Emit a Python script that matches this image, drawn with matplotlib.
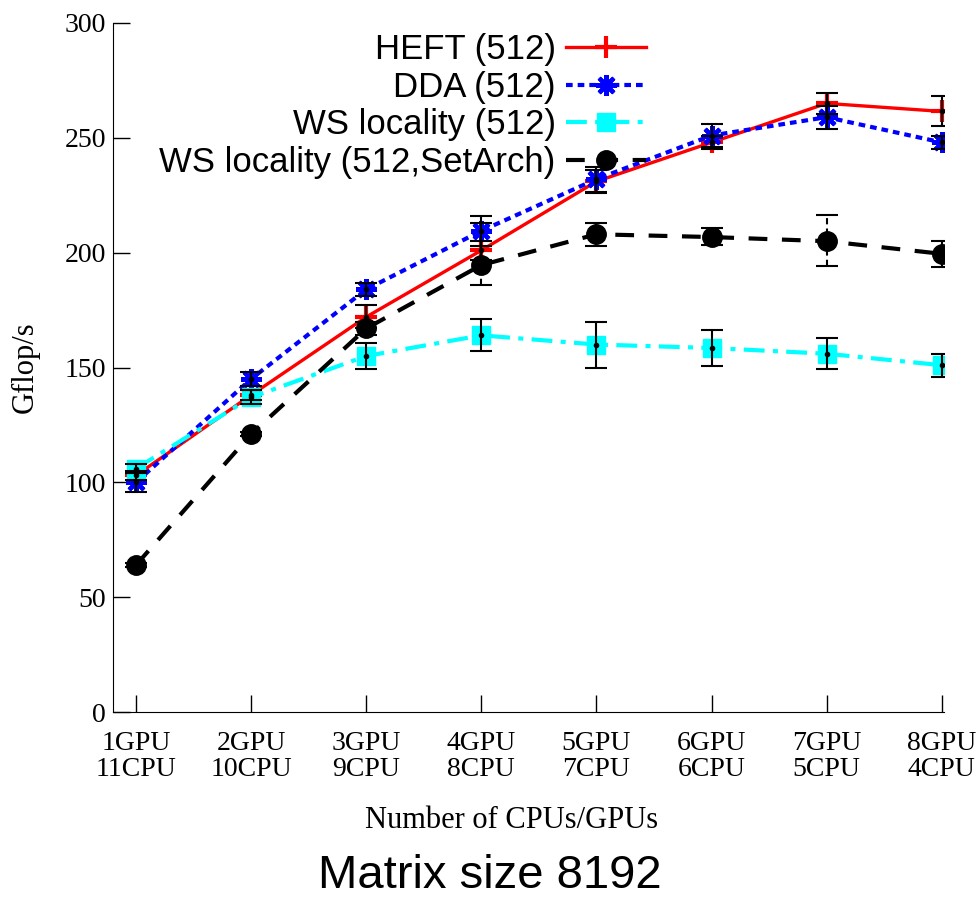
import numpy as np
import matplotlib
matplotlib.use("Agg")
import matplotlib.pyplot as plt

# configurations on the x axis
configs = ["1GPU\n11CPU", "2GPU\n10CPU", "3GPU\n9CPU", "4GPU\n8CPU",
           "5GPU\n7CPU", "6GPU\n6CPU", "7GPU\n5CPU", "8GPU\n4CPU"]
x = np.arange(1, 9)

# Gflop/s
heft = [103, 138, 172, 201, 231, 248, 265, 261.5]
heft_err = [2, 2, 5, 4, 5, 3, 4.5, 6.5]
dda = [100, 145, 184, 209.5, 232, 251, 259, 248]
dda_err = [4, 3, 3, 6.5, 5.5, 5, 5, 3]
ws = [106, 137, 155, 164, 160, 158.5, 156, 151]
ws_err = [2, 3, 5.5, 7, 10, 8, 6.7, 5]
ws_arch = [64, 121, 167, 194.6, 208, 206.8, 205, 199.5]
ws_arch_lo = [1, 1, 3, 8.5, 5, 3.5, 11, 5.7]
ws_arch_hi = [1, 1, 3, 18.5, 5, 4, 11.5, 5.5]

serif = ["Liberation Serif", "DejaVu Serif"]
sans = ["Liberation Sans", "DejaVu Sans"]

fig = plt.figure(figsize=(9.79, 8.98), dpi=100)
ax = fig.add_axes([113 / 979, 186 / 898, 831 / 979, 689 / 898])

# series lines with markers
ax.plot(x, heft, color="red", lw=2.4, marker="+", ms=16, mew=3,
        label="HEFT (512)")
ax.plot(x, dda, color="blue", lw=3, ls=(0, (1.6, 1.2)), marker=(8, 2, 0),
        ms=15, mew=3, label="DDA (512)")
ax.plot(x, ws, color="cyan", lw=3, ls=(0, (5, 2, 1.2, 2)), marker="s",
        ms=13, label="WS locality (512)")
ax.plot(x, ws_arch, color="black", lw=3, ls=(0, (4.5, 3.5)), marker="o",
        ms=14, label="WS locality (512,SetArch)")

# error bars, drawn on top like gnuplot does
for y, err in [(heft, heft_err), (dda, dda_err), (ws, ws_err)]:
    ax.errorbar(x, y, yerr=err, fmt="o", ms=3, color="black", ecolor="black",
                elinewidth=1.5, capsize=8, capthick=1.5, zorder=5)
eb = ax.errorbar(x, ws_arch, yerr=[ws_arch_lo, ws_arch_hi], fmt="o", ms=3,
                 color="black", elinewidth=1.5, capsize=8, capthick=1.5, zorder=5)
for c in eb[2]:
    c.set_linestyle((0, (3, 2)))

ax.set_xlim(0.8, 8.02)
ax.set_ylim(0, 300)
ax.set_xticks(x)
ax.set_xticklabels(configs, family=serif, fontsize=20, linespacing=1.05)
ax.set_yticks(np.arange(0, 301, 50))
ax.set_yticklabels([str(v) for v in range(0, 301, 50)], family=serif, fontsize=20)
ax.tick_params(axis="both", direction="in", length=12, width=1)
ax.tick_params(axis="x", pad=14)
ax.tick_params(axis="y", pad=5)
for s in ["top", "right"]:
    ax.spines[s].set_visible(False)

leg = ax.legend(loc="upper right", bbox_to_anchor=(0.658, 1.005), borderaxespad=0,
                frameon=False, markerfirst=False, handlelength=2.3,
                handletextpad=0.3, labelspacing=0.13,
                prop={"family": sans, "size": 25})
for col in leg._legend_handle_box.get_children():
    col.align = "right"

fig.text(25 / 979, (898 - 367) / 898, "Gflop/s", rotation=90, ha="center",
         va="center", family=serif, fontsize=22)
fig.text(512 / 979, (898 - 820) / 898, "Number of CPUs/GPUs", ha="center",
         va="center", family=serif, fontsize=22)
fig.text(490 / 979, (898 - 876) / 898, "Matrix size 8192", ha="center",
         va="center", family=sans, fontsize=34)

fig.savefig("out.png", dpi=100)
